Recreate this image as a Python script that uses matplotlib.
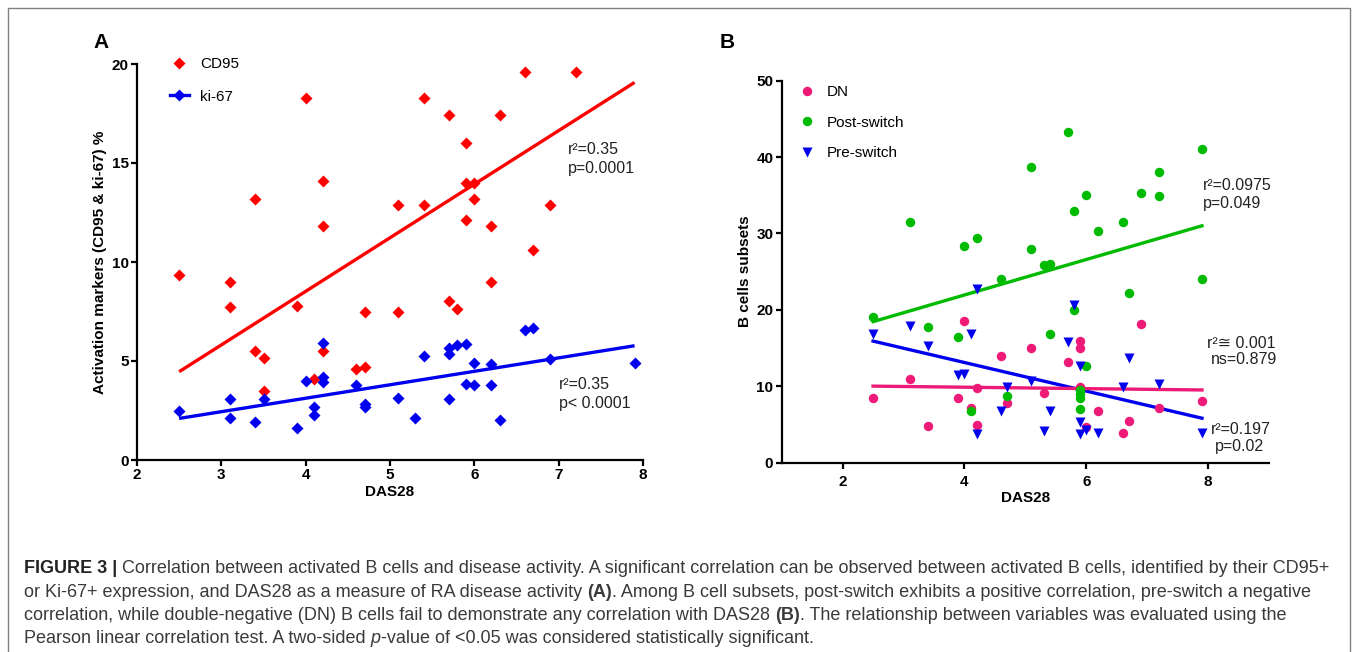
import matplotlib
matplotlib.use("Agg")
import matplotlib.pyplot as plt
from matplotlib.lines import Line2D
from matplotlib.patches import Rectangle

plt.rcParams['font.family'] = ['Liberation Sans', 'DejaVu Sans']

# ---------------- Panel A data ----------------
cd95_x = [2.5, 3.1, 3.1, 3.4, 3.4, 3.5, 3.5, 3.9, 4.0, 4.1, 4.2, 4.2, 4.2, 4.6, 4.7, 4.7,
          5.1, 5.1, 5.4, 5.4, 5.7, 5.7, 5.8, 5.9, 5.9, 5.9, 6.0, 6.0, 6.2, 6.2, 6.3, 6.6,
          6.7, 6.9, 7.2]
cd95_y = [9.35, 9.0, 7.75, 13.2, 5.5, 5.15, 3.5, 7.8, 18.3, 4.1, 14.1, 11.8, 5.5, 4.6, 4.7, 7.5,
          7.5, 12.9, 12.9, 18.3, 17.4, 8.05, 7.65, 16.0, 14.0, 12.1, 14.0, 13.2, 11.8, 9.0, 17.4, 19.6,
          10.6, 12.9, 19.6]
ki67_x = [2.5, 3.1, 3.1, 3.4, 3.5, 3.9, 4.0, 4.1, 4.1, 4.2, 4.2, 4.2, 4.6, 4.7, 4.7, 5.1,
          5.3, 5.4, 5.7, 5.7, 5.7, 5.8, 5.9, 5.9, 6.0, 6.0, 6.2, 6.2, 6.3, 6.6, 6.7, 6.9, 7.9]
ki67_y = [2.5, 3.1, 2.1, 1.9, 3.1, 1.6, 4.0, 2.7, 2.25, 5.9, 4.2, 3.95, 3.8, 2.85, 2.7, 3.15,
          2.1, 5.25, 5.65, 5.35, 3.1, 5.8, 5.85, 3.85, 4.9, 3.8, 4.85, 3.8, 2.0, 6.55, 6.65, 5.1, 4.9]
cd95_fit_x = [2.5, 7.9]
cd95_fit_y = [4.46, 19.07]
ki67_fit_x = [2.5, 7.9]
ki67_fit_y = [2.1, 5.77]

# ---------------- Panel B data ----------------
dn_x = [2.5, 3.1, 3.4, 3.9, 4.0, 4.1, 4.2, 4.2, 4.6, 4.7, 5.1, 5.3, 5.7, 5.9, 5.9, 5.9,
        6.0, 6.2, 6.6, 6.7, 6.9, 7.2, 7.9]
dn_y = [8.4, 10.9, 4.8, 8.4, 18.5, 7.2, 9.8, 4.9, 14.0, 7.85, 15.0, 9.1, 13.2, 15.9, 15.05, 9.95,
        4.7, 6.8, 3.85, 5.5, 18.15, 7.2, 8.0]
post_x = [2.5, 3.1, 3.4, 3.9, 4.0, 4.1, 4.2, 4.6, 4.7, 5.1, 5.1, 5.3, 5.4, 5.4, 5.7, 5.8,
          5.8, 5.9, 5.9, 5.9, 5.9, 6.0, 6.0, 6.2, 6.6, 6.7, 6.9, 7.2, 7.2, 7.9, 7.9]
post_y = [19.0, 31.5, 17.8, 16.4, 28.3, 6.8, 29.4, 24.0, 8.7, 38.7, 28.0, 25.8, 26.0, 16.8, 43.3, 33.0,
          20.0, 9.5, 9.0, 8.4, 7.0, 35.0, 12.7, 30.3, 31.5, 22.2, 35.3, 38.0, 34.9, 41.0, 24.0]
pre_x = [2.5, 3.1, 3.4, 3.9, 4.0, 4.1, 4.2, 4.2, 4.6, 4.7, 5.1, 5.3, 5.4, 5.7, 5.8, 5.9,
         5.9, 5.9, 6.0, 6.2, 6.6, 6.7, 7.2, 7.9]
pre_y = [16.8, 17.9, 15.3, 11.5, 11.6, 16.8, 22.7, 3.7, 6.7, 9.85, 10.7, 4.1, 6.75, 15.8, 20.6, 12.6,
         5.35, 3.7, 4.2, 3.9, 9.85, 13.65, 10.25, 3.85]
dn_fit_x = [2.5, 7.9]
dn_fit_y = [10.0, 9.5]
post_fit_x = [2.5, 7.9]
post_fit_y = [18.45, 31.0]
pre_fit_x = [2.5, 7.9]
pre_fit_y = [15.9, 5.8]

xticks_a = [2, 3, 4, 5, 6, 7, 8]
yticks_a = [0, 5, 10, 15, 20]
xticks_b = [2, 4, 6, 8]
yticks_b = [0, 10, 20, 30, 40, 50]

RED = '#ff0000'
BLUE = '#0000ee'
GREEN = '#00bb00'
PINK = '#ee1a78'

W, H = 1357, 652
fig = plt.figure(figsize=(W / 100, H / 100), dpi=100)
fig.patch.set_facecolor('white')


def px_axes(x0, x1, y_top, y_bot):
    return fig.add_axes([x0 / W, 1 - y_bot / H, (x1 - x0) / W, (y_bot - y_top) / H])


def style_axes(ax):
    for s in ['top', 'right']:
        ax.spines[s].set_visible(False)
    for s in ['left', 'bottom']:
        ax.spines[s].set_linewidth(1.6)
    ax.tick_params(direction='out', length=4, width=1.6, labelsize=11, pad=2)
    for lab in ax.get_xticklabels() + ax.get_yticklabels():
        lab.set_fontweight('bold')


ANN = 11.5

# ---------------- Panel A ----------------
axA = px_axes(137, 643, 64, 460)
axA.set_xlim(2, 8)
axA.set_ylim(0, 20)
axA.set_xticks(xticks_a)
axA.set_yticks(yticks_a)
style_axes(axA)
axA.plot(cd95_fit_x, cd95_fit_y, color=RED, lw=2.4, solid_capstyle='butt', zorder=2)
axA.plot(ki67_fit_x, ki67_fit_y, color=BLUE, lw=2.4, solid_capstyle='butt', zorder=2)
axA.plot(cd95_x, cd95_y, 'D', color=RED, ms=6.3, mec='none', clip_on=False, zorder=3)
axA.plot(ki67_x, ki67_y, 'D', color=BLUE, ms=6.3, mec='none', clip_on=False, zorder=3)
axA.set_xlabel('DAS28', fontsize=11, fontweight='bold')
axA.set_ylabel('Activation markers (CD95 & ki-67) %', fontsize=11, fontweight='bold')
axA.xaxis.set_label_coords(0.5, -0.062)
axA.yaxis.set_label_coords(-0.06, 0.5)

handlesA = [Line2D([], [], marker='D', color=RED, ls='none', ms=6.3, mec='none'),
            Line2D([], [], marker='D', color=BLUE, ls='-', lw=2.4, ms=6.3, mec='none')]
axA.legend(handlesA, ['CD95', 'ki-67'], loc='upper left', bbox_to_anchor=(0.065, 1.017),
           frameon=False, fontsize=11, handlelength=1.25, handletextpad=0.75,
           labelspacing=1.21, borderpad=0, borderaxespad=0)

axA.text(7.11, 15.7, 'r²=0.35', fontsize=ANN, ha='left', va='center', color='#222222')
axA.text(7.11, 14.7, 'p=0.0001', fontsize=ANN, ha='left', va='center', color='#222222')
axA.text(7.0, 3.79, 'r²=0.35', fontsize=ANN, ha='left', va='center', color='#222222')
axA.text(7.0, 2.86, 'p< 0.0001', fontsize=ANN, ha='left', va='center', color='#222222')

# ---------------- Panel B ----------------
axB = px_axes(781.7, 1269, 80.7, 462.5)
axB.set_xlim(1, 9)
axB.set_ylim(0, 50)
axB.set_xticks(xticks_b)
axB.set_yticks(yticks_b)
style_axes(axB)
axB.tick_params(axis='x', pad=5)
axB.plot(post_fit_x, post_fit_y, color=GREEN, lw=2.4, zorder=2)
axB.plot(pre_fit_x, pre_fit_y, color=BLUE, lw=2.4, zorder=2)
axB.plot(dn_fit_x, dn_fit_y, color=PINK, lw=2.4, zorder=2)
axB.plot(dn_x, dn_y, 'o', color=PINK, ms=6.8, mec='none', clip_on=False, zorder=3)
axB.plot(post_x, post_y, 'o', color=GREEN, ms=6.8, mec='none', clip_on=False, zorder=3)
axB.plot(pre_x, pre_y, 'v', color=BLUE, ms=6.8, mec='none', clip_on=False, zorder=4)
axB.set_xlabel('DAS28', fontsize=11, fontweight='bold')
axB.set_ylabel('B cells subsets', fontsize=11, fontweight='bold')
axB.xaxis.set_label_coords(0.5, -0.075)
axB.yaxis.set_label_coords(-0.061, 0.5)

handlesB = [Line2D([], [], marker='o', color=PINK, ls='none', ms=6.8, mec='none'),
            Line2D([], [], marker='o', color=GREEN, ls='none', ms=6.8, mec='none'),
            Line2D([], [], marker='v', color=BLUE, ls='none', ms=6.8, mec='none')]
axB.legend(handlesB, ['DN', 'Post-switch', 'Pre-switch'], loc='upper left',
           bbox_to_anchor=(0.0355, 0.989), frameon=False, fontsize=11, handlelength=1.0,
           handletextpad=0.83, labelspacing=1.09, borderpad=0, borderaxespad=0)

axB.text(7.92, 36.24, 'r²=0.0975', fontsize=ANN, ha='left', va='center', color='#222222')
axB.text(7.92, 33.88, 'p=0.049', fontsize=ANN, ha='left', va='center', color='#222222')
axB.text(8.54, 15.53, 'r²≅ 0.001', fontsize=ANN, ha='center', va='center', color='#222222')
axB.text(8.59, 13.43, 'ns=0.879', fontsize=ANN, ha='center', va='center', color='#222222')
axB.text(8.54, 4.35, 'r²=0.197', fontsize=ANN, ha='center', va='center', color='#222222')
axB.text(8.51, 2.07, 'p=0.02', fontsize=ANN, ha='center', va='center', color='#222222')

# panel letters
fig.text(101 / W, 1 - 42 / H, 'A', fontsize=15, fontweight='bold', ha='center', va='center')
fig.text(727 / W, 1 - 42 / H, 'B', fontsize=15, fontweight='bold', ha='center', va='center')

# frame
fig.add_artist(Rectangle((8 / W, -0.05), (1350 - 8) / W, (H - 8) / H + 0.05, fill=False,
                         edgecolor='#808080', lw=1.0, transform=fig.transFigure))

# ---------------- caption ----------------
caption_lines = [
    [('FIGURE 3 |', 'bold', 'normal'),
     (' Correlation between activated B cells and disease activity. A significant correlation can be observed between activated B cells, identified by their CD95+', 'normal', 'normal')],
    [('or Ki-67+ expression, and DAS28 as a measure of RA disease activity ', 'normal', 'normal'),
     ('(A)', 'bold', 'normal'),
     ('. Among B cell subsets, post-switch exhibits a positive correlation, pre-switch a negative', 'normal', 'normal')],
    [('correlation, while double-negative (DN) B cells fail to demonstrate any correlation with DAS28 ', 'normal', 'normal'),
     ('(B)', 'bold', 'normal'),
     ('. The relationship between variables was evaluated using the', 'normal', 'normal')],
    [('Pearson linear correlation test. A two-sided ', 'normal', 'normal'),
     ('p', 'normal', 'italic'),
     ('-value of <0.05 was considered statistically significant.', 'normal', 'normal')],
]
baselines = [573, 597, 620, 643]
renderer = fig.canvas.get_renderer()
for segs, yb in zip(caption_lines, baselines):
    x = 24 / W
    for txt, wt, st in segs:
        color = '#222222' if wt == 'bold' and txt.startswith('FIGURE') else '#3a3a3a'
        t = fig.text(x, 1 - yb / H, txt, fontsize=13, fontweight=wt, fontstyle=st,
                     ha='left', va='baseline', color=color)
        bb = t.get_window_extent(renderer=renderer)
        x += bb.width / W

fig.savefig('out.png', dpi=100, facecolor='white')
